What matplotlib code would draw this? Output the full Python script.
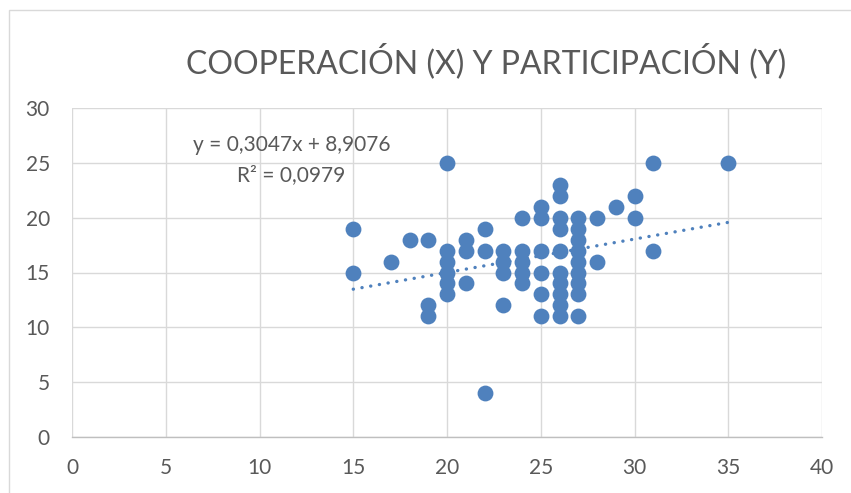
import numpy as np
import matplotlib.pyplot as plt
from matplotlib.patches import Rectangle

# Cooperation (x) and participation (y) scores
coop = [15, 15, 17, 18, 19, 19, 19, 20, 20, 20, 20, 20, 20,
        21, 21, 21, 22, 22, 22, 23, 23, 23, 23,
        24, 24, 24, 24, 24, 25, 25, 25, 25, 25, 25,
        26, 26, 26, 26, 26, 26, 26, 26, 26, 26,
        27, 27, 27, 27, 27, 27, 27, 27, 27,
        28, 28, 29, 30, 30, 31, 31, 35]
part = [19, 15, 16, 18, 18, 12, 11, 25, 17, 16, 15, 14, 13,
        18, 17, 14, 19, 17, 4, 17, 16, 15, 12,
        20, 17, 16, 15, 14, 21, 20, 17, 15, 13, 11,
        23, 22, 20, 19, 17, 15, 14, 13, 12, 11,
        20, 19, 18, 17, 16, 15, 14, 13, 11,
        20, 16, 21, 22, 20, 25, 17, 25]

# Linear trendline as labelled on the chart
slope = 0.3047
intercept = 8.9076
r2 = 0.0979

xticks = [0, 5, 10, 15, 20, 25, 30, 35, 40]
yticks = [0, 5, 10, 15, 20, 25, 30]

blue = '#4F81BD'
grey_txt = '#595959'
font = ['Lato', 'DejaVu Sans']

fig = plt.figure(figsize=(8.51, 4.93), dpi=100)
fig.patches.append(Rectangle((8.5 / 851, -0.1), 1.2, 1 - 10 / 493 + 0.1,
                             transform=fig.transFigure, fill=False,
                             edgecolor='#D9D9D9', linewidth=1))

ax = fig.add_axes([72 / 851, 1 - 437 / 493, 750 / 851, 329 / 493])
ax.set_xlim(0, 40)
ax.set_ylim(0, 30)
ax.set_xticks(xticks)
ax.set_yticks(yticks)
ax.grid(True, color='#D9D9D9', linewidth=1)
ax.set_axisbelow(True)
for s in ['top', 'right', 'left']:
    ax.spines[s].set_visible(False)
ax.spines['bottom'].set_color('#BFBFBF')
ax.spines['bottom'].set_linewidth(1)
ax.tick_params(length=0, colors=grey_txt, labelsize=15)
ax.tick_params(axis='x', pad=15)
ax.tick_params(axis='y', pad=16)
for lab in ax.get_xticklabels() + ax.get_yticklabels():
    lab.set_family(font)

ax.scatter(coop, part, s=130, color=blue, linewidths=0, zorder=3)

tx = np.array([min(coop), max(coop)])
ax.plot(tx, slope * tx + intercept, color=blue, linewidth=2.4,
        linestyle=(0, (0.05, 2.6)), dash_capstyle='round', zorder=2)

eq = 'y = ' + f'{slope:.4f}'.replace('.', ',') + 'x + ' + f'{intercept:.4f}'.replace('.', ',')
fig.text(292 / 851, 1 - 145 / 493, eq, ha='center', va='center',
         color=grey_txt, fontsize=15, family=font)
fig.text(291 / 851, 1 - 175 / 493, 'R² = ' + f'{r2:.4f}'.replace('.', ','),
         ha='center', va='center', color=grey_txt, fontsize=15, family=font)

fig.text(486 / 851, 1 - 61 / 493, 'COOPERACIÓN (X) Y PARTICIPACIÓN (Y)',
         ha='center', va='center', color=grey_txt, fontsize=23, family=font)

fig.savefig('out.png', dpi=100)
